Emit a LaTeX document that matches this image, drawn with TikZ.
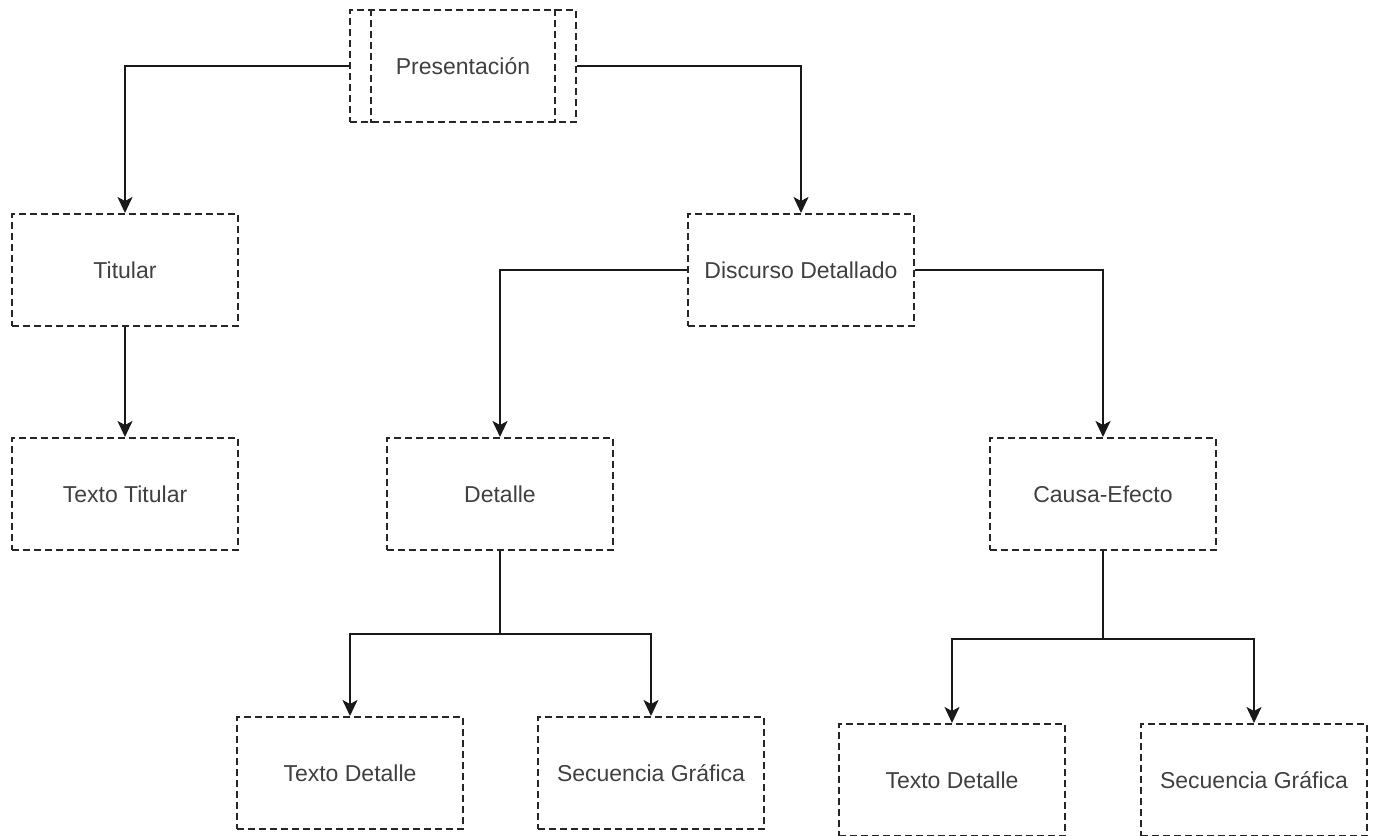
\documentclass[tikz,border=0pt]{standalone}
\usepackage{fontspec}
\setmainfont{Liberation Sans}
\usetikzlibrary{arrows.meta}
\begin{document}
\begin{tikzpicture}[x=1pt,y=-1pt,
  dashes/.style={draw=black!85, line width=2pt, dash pattern=on 7pt off 4pt},
  box/.style={dashes, minimum width=226pt, minimum height=112pt, inner sep=0pt,
    font=\fontsize{23}{27}\selectfont, text=black!75, anchor=north west},
  wire/.style={line width=2pt, draw=black!90},
  conn/.style={wire, -{Stealth[length=16pt,width=15pt,inset=4pt]}}]
\useasboundingbox (0,0) rectangle (1375,835);

% boxes
\node[box] (pres) at (349,9)   {Presentación};
\node[box] (tit)  at (11,213)  {Titular};
\node[box] (ttit) at (11,437)  {Texto Titular};
\node[box] (disc) at (687,213) {Discurso Detallado};
\node[box] (det)  at (386,437) {Detalle};
\node[box] (ce)   at (989,437) {Causa-Efecto};
\node[box] (td1)  at (236,716) {Texto Detalle};
\node[box] (sg1)  at (537,716) {Secuencia Gráfica};
\node[box] (td2)  at (838,723) {Texto Detalle};
\node[box] (sg2)  at (1140,723) {Secuencia Gráfica};

% inner side bars of the process box
\draw[dashes] ([xshift=22pt]pres.north west) -- ([xshift=22pt]pres.south west);
\draw[dashes] ([xshift=-22pt]pres.north east) -- ([xshift=-22pt]pres.south east);

% connectors
\draw[conn] (pres.west) -| (tit.north);
\draw[conn] (pres.east) -| (disc.north);
\draw[conn] (tit.south) -- (ttit.north);
\draw[conn] (disc.west) -| (det.north);
\draw[conn] (disc.east) -| (ce.north);

\draw[wire] (det.south) -- ++(0,83) coordinate (dj);
\draw[conn] (dj) -| (td1.north);
\draw[conn] (dj) -| (sg1.north);

\draw[wire] (ce.south) -- ++(0,88) coordinate (cj);
\draw[conn] (cj) -| (td2.north);
\draw[conn] (cj) -| (sg2.north);
\end{tikzpicture}
\end{document}
